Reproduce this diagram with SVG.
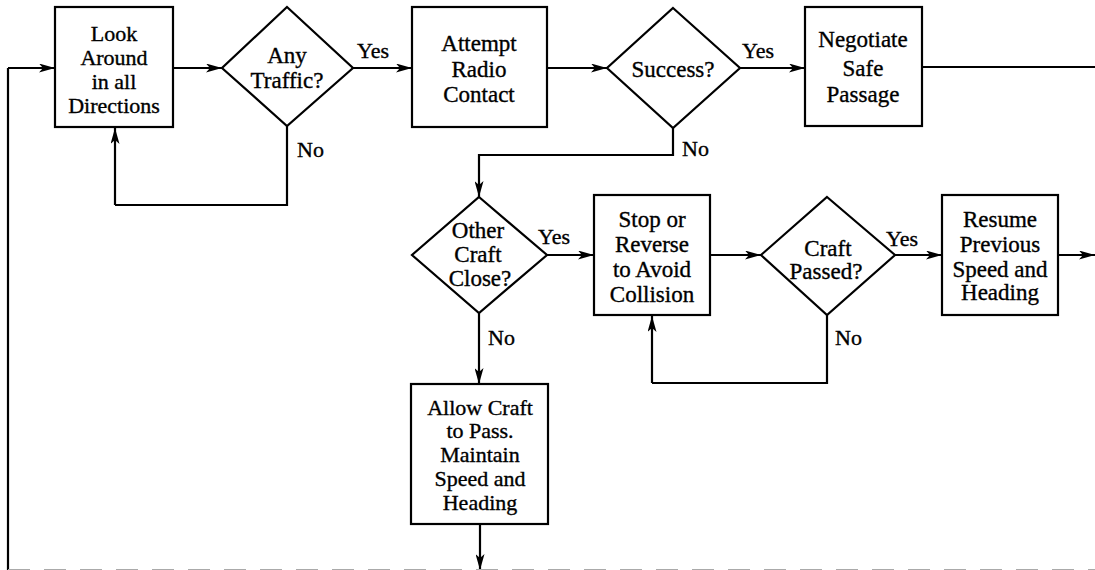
<svg xmlns="http://www.w3.org/2000/svg" width="1095" height="570" viewBox="0 0 1095 570">
<defs>
<style>
.n{fill:#fff;stroke:#000;stroke-width:2.2}
.t{font-family:'Liberation Serif','DejaVu Serif',serif;font-size:23px;fill:#000;stroke:#000;stroke-width:0.35;text-anchor:middle}
.s{font-size:22px}
.l{font-family:'Liberation Serif','DejaVu Serif',serif;font-size:22px;fill:#000;stroke:#000;stroke-width:0.35}
.c{fill:none;stroke:#000;stroke-width:2.2}
.a{marker-end:url(#ah)}
</style>
<marker id="ah" viewBox="0 0 16 9" refX="16" refY="4.5" markerWidth="16" markerHeight="9" markerUnits="userSpaceOnUse" orient="auto">
<path d="M0,0 L16,4.5 L0,9 L4,4.5 z" fill="#000"/>
</marker>
</defs>
<rect width="1095" height="570" fill="#fff"/>
<g id="connectors">
<path class="c a" d="M173,68 H222"/>
<path class="c a" d="M353,68 H412"/>
<path class="c" d="M287,126 V205 H115"/>
<path class="c a" d="M115,205 V128"/>
<path class="c a" d="M547,68 H607"/>
<path class="c a" d="M740,68 H805"/>
<path class="c" d="M922,67 H1095"/>
<path class="c a" d="M673,128 V155 H479 V197"/>
<path class="c a" d="M547,255 H594"/>
<path class="c a" d="M479,313 V384"/>
<path class="c a" d="M710,255 H761"/>
<path class="c a" d="M895,255 H942"/>
<path class="c" d="M827,315 V383 H652"/>
<path class="c a" d="M652,383 V316"/>
<path class="c a" d="M1058,255 H1095"/>
<path class="c a" d="M480,524 V570"/>
<path class="c" d="M8,570 V68"/>
<path class="c a" d="M8,68 H55"/>
<line x1="8" y1="569.5" x2="1095" y2="569.5" stroke="#aaa" stroke-width="1" stroke-dasharray="22 14"/>
<text class="l" x="357" y="58">Yes</text>
<text class="l" x="297" y="157">No</text>
<text class="l" x="742" y="58">Yes</text>
<text class="l" x="682" y="156">No</text>
<text class="l" x="538" y="244">Yes</text>
<text class="l" x="488" y="345">No</text>
<text class="l" x="886" y="246">Yes</text>
<text class="l" x="835" y="345">No</text>
</g>
<g id="look">
<rect class="n" x="55" y="7" width="118" height="120"/>
<text class="t s" x="114" y="41">Look</text>
<text class="t s" x="114" y="65">Around</text>
<text class="t s" x="114" y="89">in all</text>
<text class="t s" x="114" y="113">Directions</text>
</g>
<g id="traffic">
<polygon class="n" points="287,7 353,68 287,126 222,68"/>
<text class="t" x="287" y="63">Any</text>
<text class="t" x="287" y="88">Traffic?</text>
</g>
<g id="radio">
<rect class="n" x="412" y="7" width="135" height="120"/>
<text class="t" x="479" y="51">Attempt</text>
<text class="t" x="479" y="77">Radio</text>
<text class="t" x="479" y="102">Contact</text>
</g>
<g id="success">
<polygon class="n" points="673,8 740,68 673,128 607,68"/>
<text class="t" x="673" y="77">Success?</text>
</g>
<g id="negotiate">
<rect class="n" x="805" y="7" width="117" height="119"/>
<text class="t" x="863" y="47">Negotiate</text>
<text class="t" x="863" y="76">Safe</text>
<text class="t" x="863" y="102">Passage</text>
</g>
<g id="close">
<polygon class="n" points="479,197 547,255 479,313 412,255"/>
<text class="t" x="478" y="238">Other</text>
<text class="t" x="478" y="262">Craft</text>
<text class="t" x="480" y="286">Close?</text>
</g>
<g id="stop">
<rect class="n" x="594" y="195" width="116" height="120"/>
<text class="t" x="652" y="227">Stop or</text>
<text class="t" x="652" y="252">Reverse</text>
<text class="t" x="652" y="277">to Avoid</text>
<text class="t" x="652" y="302">Collision</text>
</g>
<g id="passed">
<polygon class="n" points="827,197 895,255 827,315 761,255"/>
<text class="t" x="828" y="256">Craft</text>
<text class="t" x="826" y="279">Passed?</text>
</g>
<g id="resume">
<rect class="n" x="942" y="195" width="116" height="120"/>
<text class="t" x="1000" y="227">Resume</text>
<text class="t" x="1000" y="252">Previous</text>
<text class="t" x="1000" y="277">Speed and</text>
<text class="t" x="1000" y="300">Heading</text>
</g>
<g id="allow">
<rect class="n" x="411" y="384" width="137" height="140"/>
<text class="t s" x="480" y="415">Allow Craft</text>
<text class="t s" x="480" y="438">to Pass.</text>
<text class="t s" x="480" y="462">Maintain</text>
<text class="t s" x="480" y="486">Speed and</text>
<text class="t s" x="480" y="510">Heading</text>
</g>
</svg>
